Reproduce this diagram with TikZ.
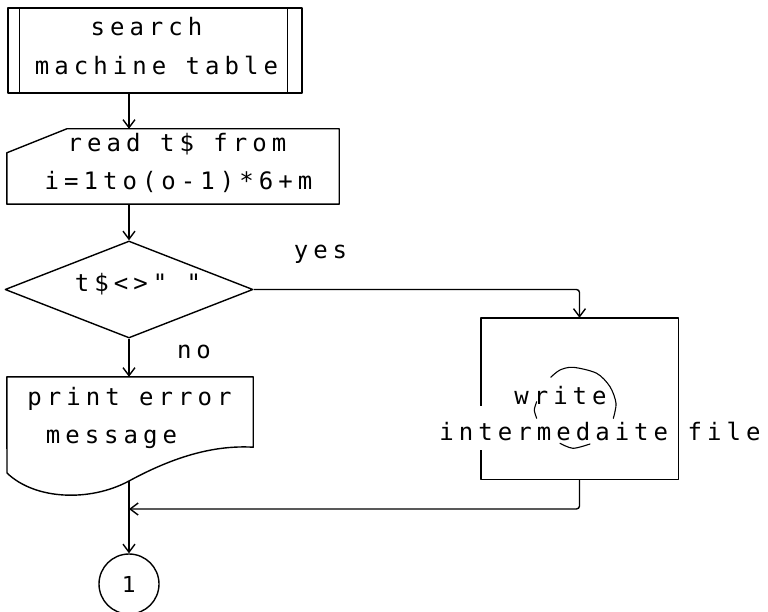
\documentclass[tikz,border=0pt]{standalone}
\usepackage{fontspec}
\usetikzlibrary{arrows.meta,shapes.geometric,calc}
\newfontfamily\dotfont[LetterSpace=21]{DejaVu Sans Mono}
\newfontfamily\numfont{DejaVu Sans}

\tikzset{
  chart/.style={line width=1.4pt, line join=round},
  arr/.style={chart, -{Straight Barb[length=8pt,width=12pt]}},
  txt/.style={font=\dotfont\fontsize{24}{38}\selectfont, inner sep=0pt, anchor=base},
  hidden/.style={rectangle, draw=none, inner sep=0pt},
  scribble/.style={line width=1.1pt, line cap=round},
}

\begin{document}
\begin{tikzpicture}[x=1pt,y=-1pt]
\useasboundingbox (0,0) rectangle (768,612);
\coordinate (spine) at (129,0);

% search machine table (predefined process)
\node[chart, draw, rectangle, minimum width=294pt, minimum height=85pt, inner sep=0pt] (search) at (155,50.5) {};
\draw[chart] ([xshift=12pt]search.north west) -- ([xshift=12pt]search.south west)
             ([xshift=-15pt]search.north east) -- ([xshift=-15pt]search.south east);
\node[txt] (s1) at (146.5,36) {search};
\node[txt] (s2) at (156.5,75) {machine table};

% read t$ (manual input)
\node[hidden, minimum width=332pt, minimum height=75pt] (read) at (173,166.5) {};
\draw[chart] (read.south west) -- ($(read.north west)+(0,24)$) -- ($(read.north west)+(60,0)$)
  -- (read.north east) -- (read.south east) -- cycle;
\node[txt] (r1) at (177,152) {read t\$ from};
\node[txt] (r2) at (178.5,190) {i=1to(o-1)*6+m};

% decision
\node[chart, draw, diamond, minimum width=248pt, minimum height=97pt, inner sep=0pt] (dec) at (129,289.5) {};
\node[txt] (d1) at (138,291) {t\$<>" "};
\node[txt] (yes) at (320.5,259) {yes};
\node[txt] (no) at (194,358) {no};

% print error message (document)
\node[hidden, minimum width=246pt, minimum height=70pt] (print) at (130,412) {};
\coordinate (pbot) at (129,481);
\draw[chart] (7,473) -- (print.north west) -- (print.north east) -- (print.south east)
  .. controls (215,445) and (175,456) .. (pbot)
  .. controls (90,502) and (35,500) .. (7,473) -- cycle;
\node[txt] (p1) at (129.5,405) {print error};
\node[txt] (p2) at (111.5,443) {message};

% write intermediate file
\node[hidden, minimum width=197pt, minimum height=161pt] (wbox) at (579.5,398.5) {};
\draw[chart] ($(wbox.north west)+(0,88)$) -- (wbox.north west) -- (wbox.north east)
  -- (wbox.south east) -- (wbox.south west) -- ($(wbox.south west)+(0,-29)$);
\node[txt] (w1) at (560.5,404) {write};
\node[txt] (w2) at (600,440) {intermedaite file};
% pen corrections over the label
\draw[scribble] plot[smooth] coordinates {(550.7,377.3) (560,370) (573.3,367.3) (596.7,373.3) (610,386.7) (616,403.3) (613.3,418.3)};
\draw[scribble] plot[smooth] coordinates {(536.7,401.7) (534.3,410) (536.7,418.3)};
\draw[scribble] plot[smooth] coordinates {(560,443.3) (573,448.3) (590,444)};

% connector 1
\node[chart, draw, circle, minimum size=60pt, inner sep=0pt, font=\numfont\fontsize{22}{26}\selectfont] (one) at (129,584) {1};
\coordinate (join) at (129,509);

% flow lines
\draw[arr] (search.south -| spine) -- (read.north -| spine);
\draw[arr] (read.south -| spine) -- (dec.north);
\draw[arr] (dec.south) -- (print.north -| spine);
\draw[arr, rounded corners=3pt] (dec.east) -| (wbox.north);
\draw[arr] (pbot) -- (one.north);
\draw[arr, rounded corners=3pt] (wbox.south) |- (join);
\end{tikzpicture}
\end{document}
